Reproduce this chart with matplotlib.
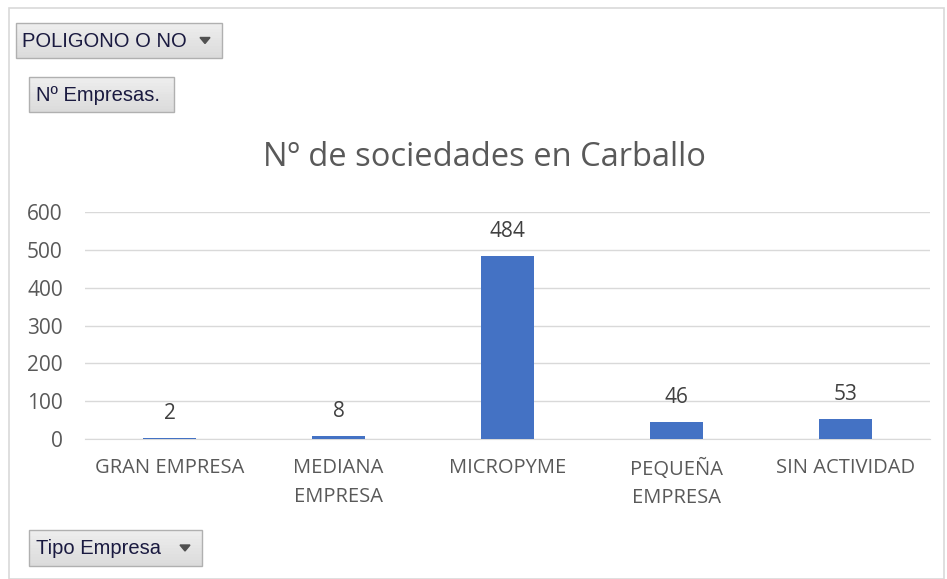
import numpy as np
import matplotlib.pyplot as plt
from matplotlib.patches import Rectangle, Polygon

categorias = ["GRAN EMPRESA", "MEDIANA\nEMPRESA", "MICROPYME", "PEQUEÑA\nEMPRESA", "SIN ACTIVIDAD"]
valores = [2, 8, 484, 46, 53]
y_ticks = [0, 100, 200, 300, 400, 500, 600]
titulo = "Nº de sociedades en Carballo"

W, H = 947, 579
fig = plt.figure(figsize=(W / 100, H / 100), dpi=100)
plt.rcParams['font.family'] = ['Open Sans', 'DejaVu Sans']

# chart border
fig.patches.append(Rectangle((9 / W, 0), (944 - 9) / W, (H - 8) / H, transform=fig.transFigure,
                             fill=False, edgecolor='#d9d9d9', linewidth=1.2))

ax = fig.add_axes([85 / W, (H - 439) / H, (930 - 85) / W, (439 - 212) / H])
x = np.arange(len(categorias))
bars = ax.bar(x, valores, width=0.31, color='#4472C4', zorder=3)
ax.set_xlim(-0.5, len(categorias) - 0.5)
ax.set_ylim(0, 600)
ax.set_yticks(y_ticks)
ax.set_xticks(x)
ax.set_xticklabels(categorias, fontsize=14.5, color='#595959', linespacing=1.55)
ax.tick_params(axis='y', labelsize=15, labelcolor='#595959', length=0, pad=16)
ax.tick_params(axis='x', length=0, pad=14)
ax.grid(axis='y', color='#d9d9d9', linewidth=1, zorder=0)
for s in ax.spines.values():
    s.set_visible(False)
ax.spines['bottom'].set_visible(True)
ax.spines['bottom'].set_color('#d9d9d9')

for xi, v in zip(x, valores):
    ax.annotate(str(v), (xi, v), xytext=(0, 10), textcoords='offset points',
                ha='center', va='bottom', fontsize=15, color='#404040')

fig.text(484 / W, 1 - 158 / H, titulo, ha='center', va='center', fontsize=23.5, color='#595959')


def boton(x0, y0, x1, y1, texto, flecha, tx):
    # simple gradient: light at top, darker at bottom
    n = 12
    alto = (y1 - y0) / n
    for i in range(n):
        g = 0.93 - 0.07 * i / (n - 1)
        fig.patches.append(Rectangle((x0 / W, 1 - (y0 + (i + 1) * alto) / H), (x1 - x0) / W, alto / H,
                                     transform=fig.transFigure, facecolor=(g, g, g),
                                     edgecolor='none'))
    fig.patches.append(Rectangle((x0 / W, 1 - y1 / H), (x1 - x0) / W, (y1 - y0) / H,
                                 transform=fig.transFigure, fill=False,
                                 edgecolor='#b0b0b0', linewidth=1))
    fig.text(tx / W, 1 - (y0 + y1 + 2) / 2 / H, texto, ha='left', va='center',
             fontsize=14.5, color='#1a1a40', family=['Liberation Sans', 'DejaVu Sans'])
    if flecha:
        cx, cy = x1 - 17, (y0 + y1) / 2
        fig.patches.append(Polygon([((cx - 5) / W, 1 - (cy - 3) / H), ((cx + 5) / W, 1 - (cy - 3) / H),
                                    (cx / W, 1 - (cy + 3) / H)], closed=True,
                                   transform=fig.transFigure, color='#505050'))


boton(16, 23, 222, 58, "POLIGONO O NO", True, 22)
boton(29, 77, 174, 112, "Nº Empresas.", False, 36)
boton(29, 530, 202, 566, "Tipo Empresa", True, 36)

fig.savefig("out.png", dpi=100)
